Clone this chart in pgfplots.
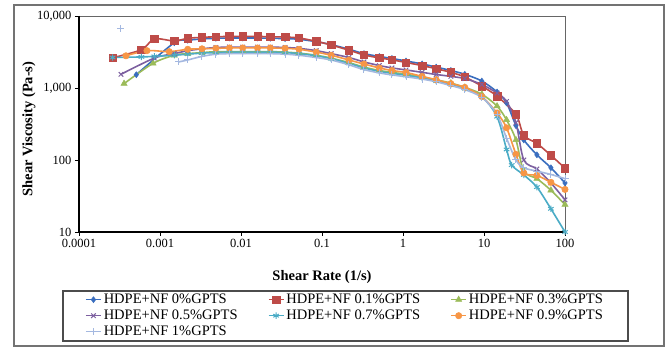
\documentclass[border=0pt]{standalone}
\usepackage{fontspec}
\setmainfont{Liberation Serif}
\usepackage{pgfplots}
\pgfplotsset{compat=1.18}
\definecolor{cA}{HTML}{3A6EBF}
\definecolor{cB}{HTML}{BE4B48}
\definecolor{cC}{HTML}{9BBB59}
\definecolor{cD}{HTML}{7D60A0}
\definecolor{cE}{HTML}{4BACC6}
\definecolor{cF}{HTML}{F79646}
\definecolor{cG}{HTML}{A4B8E0}
\begin{document}
\begin{tikzpicture}
\path[use as bounding box] (-79pt,-118pt) rectangle (590pt,232pt);
\fill[white] (-79pt,-118pt) rectangle (590pt,232pt);
\draw[black!55, line width=1.4pt] (-65pt,-114pt) rectangle (585pt,227pt);
\begin{axis}[
  at={(0pt,0pt)}, anchor=south west,
  scale only axis, width=486pt, height=216pt,
  xmode=log, ymode=log,
  xmin=1e-4, xmax=100, ymin=10, ymax=1e4,
  xtick={1e-4,1e-3,0.01,0.1,1,10,100},
  xticklabels={0.0001,0.001,0.01,0.1,1,10,100},
  ytick={10,100,1000,10000},
  yticklabels={10,100,{1,000},{10,000}},
  xminorticks=false, yminorticks=false,
  tick pos=left, tick align=outside, major tick length=4pt,
  tick style={black, line width=0.9pt},
  ticklabel style={font=\fontsize{12.5}{14}\selectfont},
  axis line style={black!60, line width=0.9pt},
  xlabel={Shear Rate (1/s)}, ylabel={Shear Viscosity (Pa-s)},
  label style={font=\bfseries\fontsize{14.5}{16}\selectfont},
  xlabel style={at={(axis description cs:0.5,-0.2083)}, anchor=center},
  ylabel style={at={(axis description cs:-0.1029,0.477)}, anchor=center},
  clip=false,
  legend columns=3,
  legend style={draw=none, fill=none, at={(axis description cs:0.0123,-0.2824)}, anchor=north west,
    inner sep=0pt, row sep=3pt, column sep=2pt, font=\fontsize{14.5}{16}\selectfont,
    nodes={inner sep=0pt, text height=10pt, text depth=3pt}},
  legend image code/.code={\draw[mark repeat=2,mark phase=2,#1] plot coordinates {(0pt,0pt) (7.5pt,0pt) (15pt,0pt)};},
  every axis plot/.append style={line width=1.6pt, smooth},
]
\addplot[color=cA, mark=diamond*, mark size=3pt, mark options={solid, line width=0.5pt}] coordinates {
(0.00051,1530) (0.0015,4250) (0.0022,4600) (0.0033,4800) (0.0049,4900) (0.0072,4950) (0.0105,4950) (0.016,4950) (0.023,4900) (0.035,4850) (0.052,4750) (0.085,4400) (0.13,4000) (0.215,3450) (0.33,3000) (0.51,2740) (0.73,2570) (1.09,2370) (1.72,2160) (2.57,1950) (3.9,1750) (5.8,1550) (9.4,1250) (14.5,880) (19,620) (24.8,300) (31,190) (45,118) (67,78) (100,48)};
\addlegendentry{\makebox[162pt][l]{HDPE+NF 0\%GPTS}}
\addplot[color=cB, mark=square*, mark size=3.7pt, mark options={solid, line width=0.5pt}] coordinates {
(0.00026,2630) (0.00059,3400) (0.00085,4800) (0.0015,4500) (0.0022,4900) (0.0033,5050) (0.0049,5150) (0.0072,5200) (0.0105,5200) (0.016,5200) (0.023,5150) (0.035,5100) (0.052,4950) (0.085,4450) (0.13,3950) (0.215,3350) (0.33,2880) (0.51,2620) (0.73,2460) (1.09,2260) (1.72,2050) (2.57,1850) (3.9,1650) (5.8,1420) (9.4,1060) (14.5,770) (24.8,430) (31,220) (45,170) (67,116) (100,77)};
\addlegendentry{\makebox[162pt][l]{HDPE+NF 0.1\%GPTS}}
\addplot[color=cC, mark=triangle*, mark size=3.6pt, mark options={solid, line width=0.5pt}] coordinates {
(0.00036,1150) (0.00082,2200) (0.0015,2850) (0.0022,3000) (0.0033,3100) (0.0049,3200) (0.0072,3200) (0.0105,3200) (0.016,3200) (0.023,3200) (0.035,3150) (0.052,3050) (0.085,2850) (0.13,2600) (0.215,2250) (0.33,1950) (0.51,1750) (0.73,1650) (1.09,1550) (1.72,1420) (2.57,1300) (3.9,1170) (5.8,1020) (9.4,820) (14.5,560) (19,360) (24.8,190) (31,70) (45,55) (67,38) (100,24)};
\addlegendentry{HDPE+NF 0.3\%GPTS}
\addplot[color=cD, mark=x, mark size=3.2pt, mark options={solid, line width=1pt}] coordinates {
(0.00033,1550) (0.00085,2600) (0.0015,3000) (0.0022,3300) (0.0033,3500) (0.0049,3650) (0.0072,3700) (0.0105,3700) (0.016,3700) (0.023,3700) (0.035,3650) (0.052,3550) (0.085,3300) (0.13,3000) (0.215,2650) (0.33,2300) (0.51,2050) (0.73,1900) (1.09,1780) (1.72,1650) (2.57,1540) (3.9,1450) (5.8,1350) (9.4,1120) (14.5,850) (19,650) (24.8,330) (31,100) (45,75) (67,48) (100,28)};
\addlegendentry{\makebox[162pt][l]{HDPE+NF 0.5\%GPTS}}
\addplot[color=cE, mark=asterisk, mark size=3.2pt, mark options={solid, line width=1pt}] coordinates {
(0.00026,2650) (0.00059,2700) (0.00085,2750) (0.0015,2850) (0.0022,2950) (0.0033,3050) (0.0049,3100) (0.0072,3150) (0.0105,3150) (0.016,3150) (0.023,3150) (0.035,3100) (0.052,3000) (0.085,2800) (0.13,2550) (0.215,2200) (0.33,1900) (0.51,1700) (0.73,1600) (1.09,1500) (1.72,1380) (2.57,1250) (3.9,1120) (5.8,980) (9.4,760) (14.5,400) (19,140) (22,85) (31,62) (45,42) (67,21) (100,10)};
\addlegendentry{\makebox[162pt][l]{HDPE+NF 0.7\%GPTS}}
\addplot[color=cF, mark=*, mark size=3.2pt, mark options={solid, line width=0.5pt}] coordinates {
(0.00038,2800) (0.00069,3300) (0.0013,3200) (0.0022,3450) (0.0033,3500) (0.0049,3550) (0.0072,3600) (0.0105,3600) (0.016,3600) (0.023,3600) (0.035,3550) (0.052,3450) (0.085,3150) (0.13,2850) (0.215,2450) (0.33,2150) (0.51,1900) (0.73,1750) (1.09,1640) (1.72,1450) (2.57,1300) (3.9,1150) (5.8,1020) (9.4,760) (14.5,450) (19,280) (24.8,120) (31,66) (45,61) (67,49) (100,39)};
\addlegendentry{HDPE+NF 0.9\%GPTS}
\addplot[color=cG, mark=+, mark size=3.5pt, mark options={solid, line width=1pt}] coordinates {
(0.0017,2300) (0.0022,2450) (0.0033,2750) (0.0049,2950) (0.0072,3000) (0.0105,3000) (0.016,3000) (0.023,3000) (0.035,2950) (0.052,2850) (0.085,2650) (0.13,2450) (0.215,2100) (0.33,1800) (0.51,1620) (0.73,1520) (1.09,1430) (1.72,1330) (2.57,1220) (3.9,1080) (5.8,950) (9.4,740) (14.5,430) (19,200) (24.8,100) (31,78) (45,70) (67,63) (100,55)};
\addlegendentry{\makebox[162pt][l]{HDPE+NF 1\%GPTS}}
\addplot[color=cG, only marks, mark=+, mark size=3.5pt, mark options={solid, line width=1pt}, forget plot] coordinates {(0.00033,6600)};
\draw[black, line width=1.6pt] (rel axis cs:0,1) -- (rel axis cs:0,0) -- (rel axis cs:1,0);
\end{axis}
\draw[black!70, line width=1.2pt] (-16pt,-59pt) rectangle (549pt,-109pt);
\end{tikzpicture}
\end{document}
